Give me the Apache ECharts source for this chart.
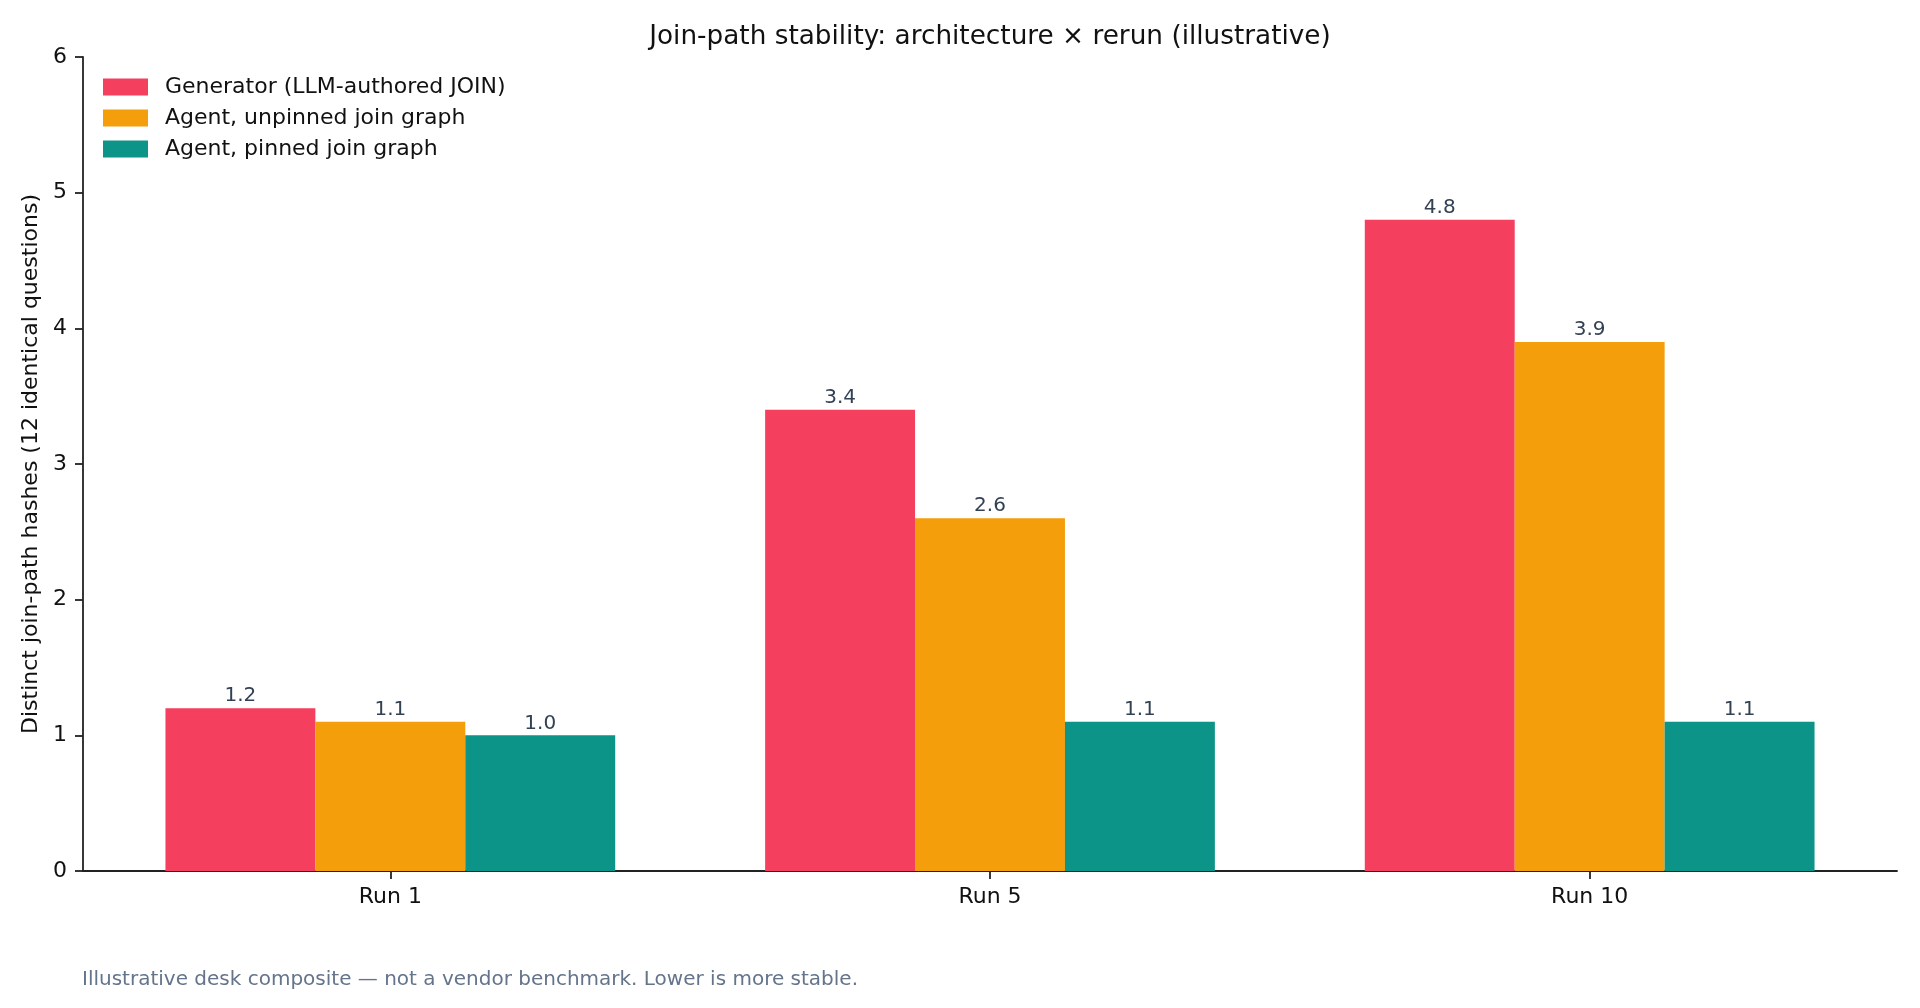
<!DOCTYPE html>
<html>
<head>
<meta charset="utf-8">
<script src="https://cdn.jsdelivr.net/npm/echarts@6/dist/echarts.min.js"></script>
<style>
  html, body { margin: 0; padding: 0; background: #fff; }
  #chart { width: 1920px; height: 1008px; }
</style>
</head>
<body>
<div id="chart"></div>
<script>
const runs = ["Run 1", "Run 5", "Run 10"]
const generator = [1.2, 3.4, 4.8]
const unpinned = [1.1, 2.6, 3.9]
const pinned = [1.0, 1.1, 1.1]
const seriesNames = ["Generator (LLM-authored JOIN)", "Agent, unpinned join graph", "Agent, pinned join graph"]
const colors = ["#F43F5E", "#F59E0B", "#0D9488"]

const font = "DejaVu Sans"
const runIdx = runs.map((_, i) => i)
const chart = echarts.init(document.getElementById("chart"))

// bars sit on a value x axis so the outer padding matches the original plot margins
const barSeries = (name, data, color) => ({
    name,
    type: "bar",
    data: data.map((v, i) => [i, v]),
    barGap: "0%",
    barCategoryGap: "25%",
    itemStyle: { color },
    label: {
        show: true,
        position: "top",
        distance: 2,
        formatter: p => p.value[1].toFixed(1),
        color: "#334155",
        fontFamily: font,
        fontSize: 20
    }
})

chart.setOption({
    animation: false,
    grid: { left: 83, right: 23, top: 57, bottom: 137 },
    legend: {
        orient: "vertical",
        left: 98,
        top: 71,
        icon: "rect",
        itemWidth: 45,
        itemHeight: 17,
        itemGap: 9,
        textStyle: { fontFamily: font, fontSize: 22, color: "#111", lineHeight: 22, padding: [0, 0, 0, 12] },
        data: seriesNames
    },
    xAxis: {
        type: "value",
        min: -0.5125,
        max: 2.5125,
        splitLine: { show: false },
        axisLine: { show: true, onZero: false, lineStyle: { color: "#222", width: 1.8 } },
        axisTick: { show: true, customValues: runIdx, length: 8, lineStyle: { color: "#222", width: 1.8 } },
        axisLabel: {
            customValues: runIdx,
            formatter: v => runs[Math.round(v)],
            fontFamily: font,
            fontSize: 22,
            color: "#111",
            margin: 15
        }
    },
    yAxis: {
        type: "value",
        min: 0,
        max: 6,
        interval: 1,
        name: "Distinct join-path hashes (12 identical questions)",
        nameLocation: "middle",
        nameGap: 39,
        nameTextStyle: { fontFamily: font, fontSize: 22, color: "#111" },
        splitLine: { show: false },
        axisLine: { show: true, onZero: false, lineStyle: { color: "#222", width: 1.8 } },
        axisTick: { show: true, length: 8, lineStyle: { color: "#222", width: 1.8 } },
        axisLabel: { fontFamily: font, fontSize: 22, color: "#111", margin: 16 }
    },
    graphic: [
        {
            type: "text",
            x: 990,
            y: 37.5,
            style: {
                text: "Join-path stability: architecture × rerun (illustrative)",
                font: "26.3px 'DejaVu Sans'",
                fill: "#111",
                textAlign: "center",
                textVerticalAlign: "middle"
            }
        },
        {
            type: "text",
            x: 82,
            y: 979.5,
            style: {
                text: "Illustrative desk composite — not a vendor benchmark. Lower is more stable.",
                font: "20px 'DejaVu Sans'",
                fill: "#64748B",
                textAlign: "left",
                textVerticalAlign: "middle"
            }
        }
    ],
    series: [
        barSeries(seriesNames[0], generator, colors[0]),
        barSeries(seriesNames[1], unpinned, colors[1]),
        barSeries(seriesNames[2], pinned, colors[2])
    ]
})

window.addEventListener("resize", () => chart.resize())
</script>
</body>
</html>
